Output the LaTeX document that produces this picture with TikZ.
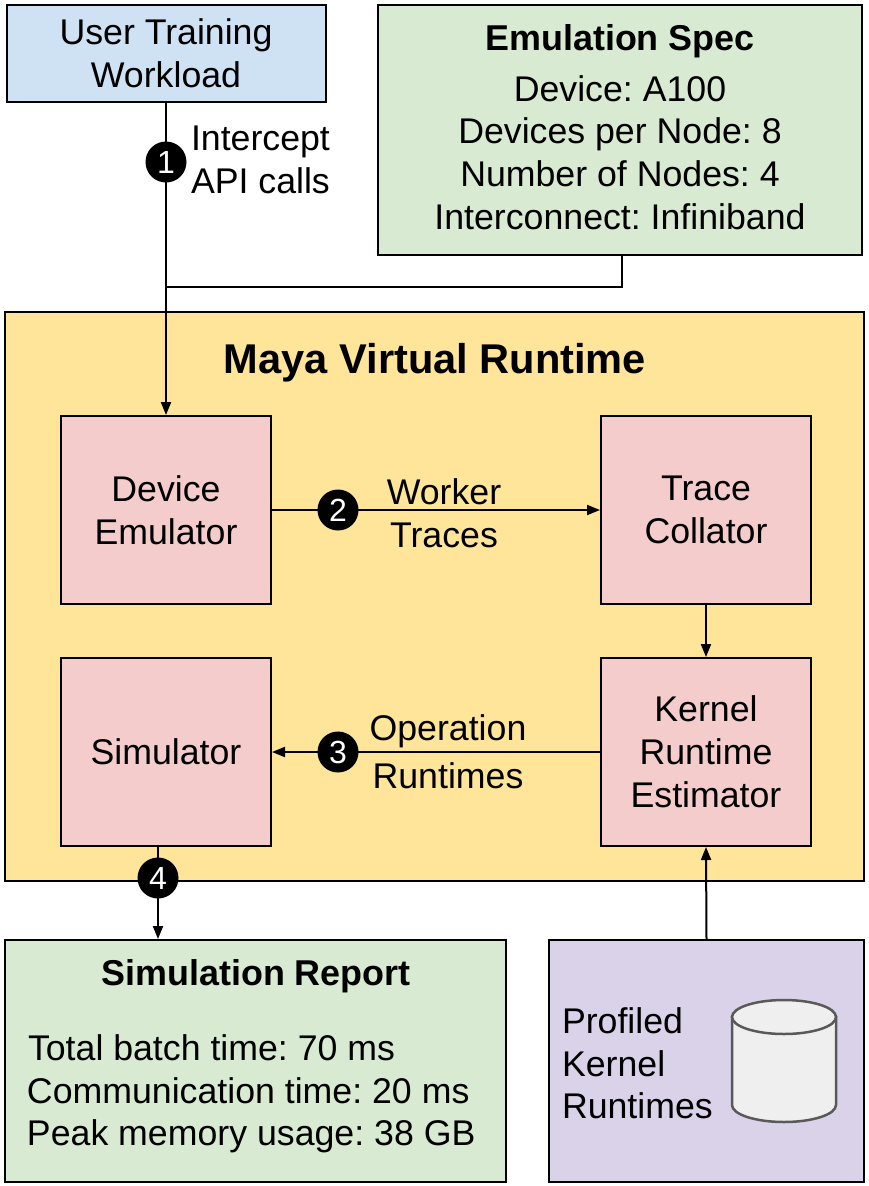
\documentclass[tikz,border=0pt]{standalone}
\usepackage{fontspec}
\setmainfont{Liberation Sans}
\usetikzlibrary{arrows.meta}
\definecolor{cblue}{HTML}{CFE2F3}
\definecolor{cgreen}{HTML}{D9EAD3}
\definecolor{cyellow}{HTML}{FFE599}
\definecolor{cpink}{HTML}{F4CCCC}
\definecolor{cpurple}{HTML}{D9D2E9}
\definecolor{cgray}{HTML}{EFEFEF}
\definecolor{cdark}{HTML}{595959}
\newcommand\mainfs{\frenchspacing\fontsize{35.7}{43}\selectfont}
\newcommand\titlefs{\frenchspacing\bfseries\fontsize{35.9}{43}\selectfont}
\begin{document}
\frenchspacing
\begin{tikzpicture}[x=1pt,y=-1pt,line width=2pt,
  box/.style={draw=black,line width=2pt,inner sep=0pt,align=center,font=\mainfs},
  lbl/.style={inner sep=0pt,align=center,font=\mainfs},
  ttl/.style={inner sep=0pt,font=\titlefs},
  num/.style={circle,fill=black,minimum size=41pt,inner sep=0pt,text=white,font=\fontsize{32}{32}\selectfont},
  arr/.style={draw=black,line width=2pt,-{Triangle[length=13pt,width=10pt]}}]
\useasboundingbox (0,0) rectangle (868,1186);
\fill[white] (0,0) rectangle (868,1186);
% top boxes
\node[box,fill=cblue,minimum width=319pt,minimum height=97pt] (user) at (166,53.5) {User Training\\Workload};
\node[box,fill=cgreen,minimum width=484pt,minimum height=250pt] (spec) at (620,130) {};
\node[ttl,anchor=base] (spect) at (620,50) {Emulation Spec};
\node[lbl,anchor=base] (spec1) at (620,101) {Device: A100};
\node[lbl,anchor=base] (spec2) at (620,143) {Devices per Node: 8};
\node[lbl,anchor=base] (spec3) at (620,186) {Number of Nodes: 4};
\node[lbl,anchor=base] (spec4) at (620,229) {Interconnect: Infiniband};
% runtime
\node[box,fill=cyellow,minimum width=859pt,minimum height=569pt] (maya) at (434.5,596.5) {};
\node[inner sep=0pt,anchor=base,font=\bfseries\fontsize{41.6}{50}\selectfont] (mayat) at (435,373) {Maya Virtual Runtime};
\node[box,fill=cpink,minimum width=210pt,minimum height=188pt] (dev) at (166,510) {Device\\Emulator};
\node[box,fill=cpink,minimum width=210pt,minimum height=188pt] (tc) at (706,510) {Trace\\Collator};
\node[box,fill=cpink,minimum width=210pt,minimum height=188pt] (sim) at (166,752) {Simulator};
\node[box,fill=cpink,minimum width=210pt,minimum height=188pt] (kre) at (706,752) {Kernel\\Runtime\\Estimator};
% bottom boxes
\node[box,fill=cgreen,minimum width=501pt,minimum height=242pt] (report) at (255.5,1061) {};
\node[ttl,anchor=base] (reportt) at (256,985) {Simulation Report};
\node[lbl,anchor=base west] (rep1) at (27,1060) {Total batch time: 70 ms};
\node[lbl,anchor=base west] (rep2) at (26,1103) {Communication time: 20 ms};
\node[lbl,anchor=base west] (rep3) at (26,1145) {Peak memory usage: 38 GB};
\node[box,fill=cpurple,minimum width=315pt,minimum height=242pt] (prof) at (706.5,1061) {};
\node[lbl,anchor=base west,align=left] (prof1) at (561,1033) {Profiled};
\node[lbl,anchor=base west,align=left] (prof2) at (561,1076) {Kernel};
\node[lbl,anchor=base west,align=left] (prof3) at (561,1118) {Runtimes};
% cylinder
\filldraw[fill=cgray,draw=cdark,line width=2.5pt] (732,1017) -- (732,1105) arc[start angle=180,end angle=0,x radius=52,y radius=17] -- (836,1017) -- cycle;
\filldraw[fill=cgray,draw=cdark,line width=2.5pt] (784,1017) ellipse [x radius=52,y radius=17];
% connectors
\coordinate (j) at (166,287);
\draw[arr] (user.south) -- (dev.north);
\draw[line width=2pt] ([xshift=2pt]spec.south) |- (j);
\draw[arr] (dev.east) -- (tc.west);
\draw[arr] (tc.south) -- (kre.north);
\draw[arr] (kre.west) -- (sim.east);
\draw[arr] (prof.north) -- (kre.south);
\draw[arr] ([xshift=-8pt]sim.south) -- ([xshift=-8pt]sim.south |- report.north);
% numbers and labels
\node[num] (n1) at (166,162) {1};
\node[lbl,anchor=west,align=left] (l1) at (190,160) {Intercept\\API calls};
\node[num] (n2) at (338,510) {2};
\node[lbl] (l2) at (444,513.5) {Worker\\Traces};
\node[num] (n3) at (338,752) {3};
\node[lbl] (l3) at (448,752) {Operation\\[5pt]Runtimes};
\node[num] (n4) at (158,878) {4};
\end{tikzpicture}
\end{document}
